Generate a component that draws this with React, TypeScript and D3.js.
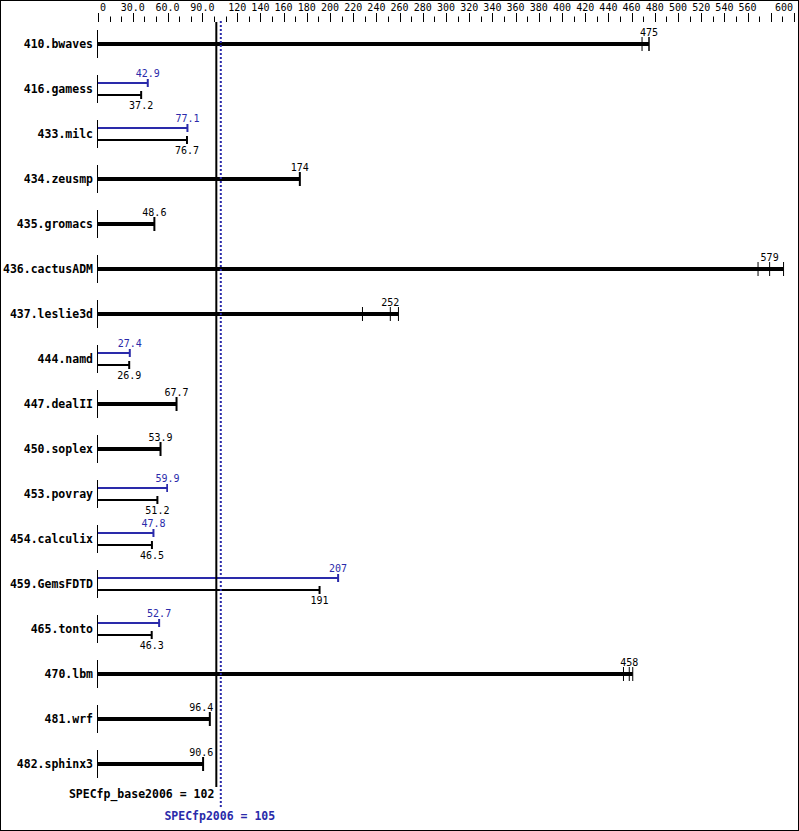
import * as React from 'react'
import * as d3 from 'd3'

// SPEC CPU2006 floating point results, base (black) and peak (blue)
const benchmarks = [
	'410.bwaves', '416.gamess', '433.milc', '434.zeusmp', '435.gromacs',
	'436.cactusADM', '437.leslie3d', '444.namd', '447.dealII', '450.soplex',
	'453.povray', '454.calculix', '459.GemsFDTD', '465.tonto', '470.lbm',
	'481.wrf', '482.sphinx3',
]
const baseValues = [475, 37.2, 76.7, 174, 48.6, 579, 252, 26.9, 67.7, 53.9, 51.2, 46.5, 191, 46.3, 458, 96.4, 90.6]
// null where peak equals base (drawn as a single thick bar)
const peakValues: (number | null)[] = [null, 42.9, 77.1, null, null, null, null, 27.4, null, null, 59.9, 47.8, 207, 52.7, null, null, null]
// individual runs where they can be told apart
const baseRuns: number[][] = [
	[469, 475, 475], [37.2], [76.7], [174], [48.6],
	[569, 579, 591], [228, 252, 259], [26.9], [67.7], [53.9],
	[51.2], [46.5], [191], [46.3], [453, 458, 461], [96.4], [90.6],
]
const peakRuns: number[][] = [
	[], [42.9], [77.1], [], [], [], [], [27.4], [], [],
	[59.3, 59.9], [47.8], [207], [52.7], [], [], [],
]
const majorTicks = [0, 30, 60, 90, 120, 140, 160, 180, 200, 220, 240, 260, 280, 300, 320, 340, 360, 380, 400, 420, 440, 460, 480, 500, 520, 540, 560, 580, 600]
const tickLabels = ['0', '30.0', '60.0', '90.0', '120', '140', '160', '180', '200', '220', '240', '260', '280', '300', '320', '340', '360', '380', '400', '420', '440', '460', '480', '500', '520', '540', '560', '', '600']
const specBase = 102
const specPeak = 105

const BLUE = '#2a2aaa'
const MONO = '"DejaVu Sans Mono", "Liberation Mono", monospace'

function drawChart(svg: d3.Selection<SVGSVGElement, unknown, null, undefined>) {
	const width = 799, height = 831
	svg.selectAll('*').remove()
	svg.append('rect').attr('x', 0.5).attr('y', 0.5).attr('width', width - 1).attr('height', height - 1)
		.attr('fill', 'white').attr('stroke', 'black')

	const x = d3.scaleLinear().domain([0, 600]).range([98, 794])
	const y = d3.scalePoint<string>().domain(benchmarks).range([44, 764])

	// top axis
	const axis = svg.append('g')
	const minor = d3.range(0, 601, 10)
	axis.selectAll('line.minor').data(minor).enter().append('line')
		.attr('x1', d => Math.round(x(d)) + 0.5).attr('x2', d => Math.round(x(d)) + 0.5)
		.attr('y1', 16.5).attr('y2', 22).attr('stroke', 'black')
	axis.selectAll('line.major').data(majorTicks).enter().append('line')
		.attr('x1', d => Math.round(x(d)) + 0.5).attr('x2', d => Math.round(x(d)) + 0.5)
		.attr('y1', 13).attr('y2', 22).attr('stroke', 'black')
	axis.selectAll('text').data(majorTicks).enter().append('text')
		.attr('x', (d, i) => i === 0 ? x(d) + 2 : i === majorTicks.length - 1 ? x(d) - 1 : x(d))
		.attr('y', 11)
		.attr('text-anchor', (d, i) => i === 0 ? 'start' : i === majorTicks.length - 1 ? 'end' : 'middle')
		.attr('font-family', MONO).attr('font-size', 10)
		.text((d, i) => tickLabels[i])

	const refX = x(specBase)
	const peakX = x(specPeak)
	const labelW = (s: string) => s.length * 6.02

	const placeLabel = (v: number) => {
		const s = String(v)
		let cx = x(v)
		if (cx < refX && cx + labelW(s) / 2 > refX - 3) cx = refX - 3 - labelW(s) / 2
		return cx
	}

	benchmarks.forEach((name, i) => {
		const cy = y(name)!
		const g = svg.append('g')
		g.append('text').attr('x', 93).attr('y', cy + 4).attr('text-anchor', 'end')
			.attr('font-family', MONO).attr('font-size', 11.5).attr('font-weight', 'bold')
			.text(name)
		g.append('line').attr('x1', x(0) - 0.5).attr('x2', x(0) - 0.5)
			.attr('y1', cy - 14).attr('y2', cy + 14).attr('stroke', 'black')

		const base = baseValues[i]
		const peak = peakValues[i]
		if (peak === null) {
			const runs = baseRuns[i]
			const end = d3.max(runs)!
			g.append('line').attr('x1', x(0)).attr('x2', x(end))
				.attr('y1', cy).attr('y2', cy).attr('stroke', 'black').attr('stroke-width', 4)
			g.selectAll('line.run').data(runs).enter().append('line')
				.attr('x1', d => x(d)).attr('x2', d => x(d))
				.attr('y1', cy - 7).attr('y2', cy + 7).attr('stroke', 'black')
				.attr('stroke-width', runs.length > 1 ? 1 : 2)
			g.append('text').attr('x', placeLabel(base)).attr('y', cy - 8).attr('text-anchor', 'middle')
				.attr('font-family', MONO).attr('font-size', 10).text(String(base))
		} else {
			const by = cy + 6, py = cy - 6
			const pr = peakRuns[i], br = baseRuns[i]
			g.append('line').attr('x1', x(0)).attr('x2', x(d3.max(pr)!))
				.attr('y1', py).attr('y2', py).attr('stroke', BLUE).attr('stroke-width', 2)
			g.selectAll('line.prun').data(pr).enter().append('line')
				.attr('x1', d => x(d)).attr('x2', d => x(d))
				.attr('y1', py - 4).attr('y2', py + 4).attr('stroke', BLUE)
				.attr('stroke-width', pr.length > 1 ? 1 : 2)
			g.append('text').attr('x', placeLabel(peak)).attr('y', py - 6).attr('text-anchor', 'middle')
				.attr('font-family', MONO).attr('font-size', 10).attr('fill', BLUE).text(String(peak))

			g.append('line').attr('x1', x(0)).attr('x2', x(d3.max(br)!))
				.attr('y1', by).attr('y2', by).attr('stroke', 'black').attr('stroke-width', 2)
			g.selectAll('line.brun').data(br).enter().append('line')
				.attr('x1', d => x(d)).attr('x2', d => x(d))
				.attr('y1', by - 4).attr('y2', by + 4).attr('stroke', 'black')
				.attr('stroke-width', br.length > 1 ? 1 : 2)
			g.append('text').attr('x', placeLabel(base)).attr('y', by + 14).attr('text-anchor', 'middle')
				.attr('font-family', MONO).attr('font-size', 10).text(String(base))
		}
	})

	// reference lines for the overall scores
	svg.append('line').attr('x1', refX).attr('x2', refX).attr('y1', 22).attr('y2', 787)
		.attr('stroke', 'black').attr('stroke-width', 2)
	svg.append('line').attr('x1', peakX + 1).attr('x2', peakX + 1).attr('y1', 21).attr('y2', 808)
		.attr('stroke', BLUE).attr('stroke-width', 2).attr('stroke-dasharray', '2,2')

	svg.append('text').attr('x', refX - 2).attr('y', 798).attr('text-anchor', 'end')
		.attr('font-family', MONO).attr('font-size', 11.5).attr('font-weight', 'bold')
		.text(`SPECfp_base2006 = ${specBase}`)
	svg.append('text').attr('x', peakX).attr('y', 820).attr('text-anchor', 'middle')
		.attr('font-family', MONO).attr('font-size', 11.5).attr('font-weight', 'bold').attr('fill', BLUE)
		.text(`SPECfp2006 = ${specPeak}`)
}

const App: React.FC = () => {
	const svgRef = React.useRef<SVGSVGElement>(null)

	React.useEffect(() => {
		if (svgRef.current) drawChart(d3.select(svgRef.current))
	}, [])

	return (
		<svg ref={svgRef} width={799} height={831}
			style={{ position: 'absolute', left: 0, top: 0, display: 'block' }} />
	)
}

export default App
